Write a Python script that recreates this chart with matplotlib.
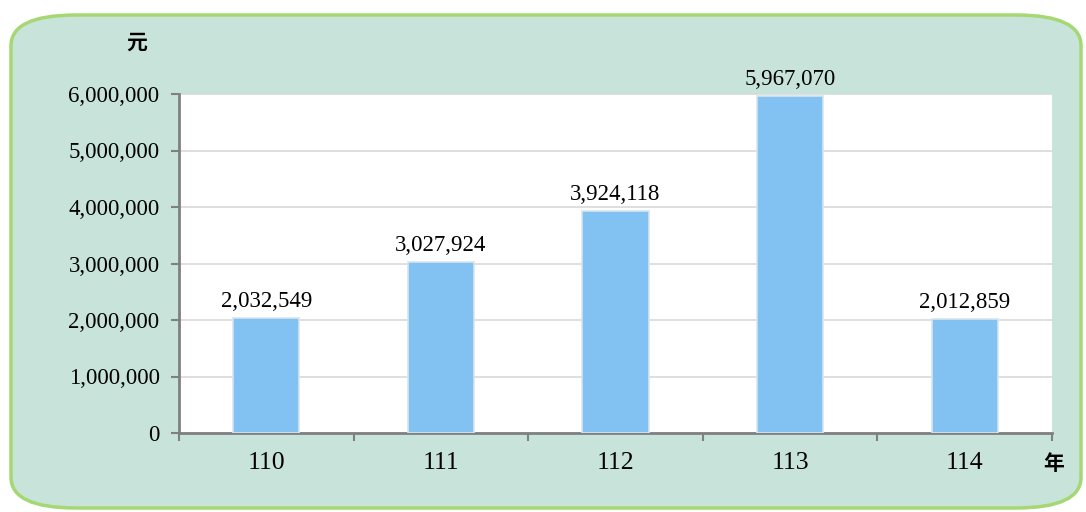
import numpy as np
import matplotlib.pyplot as plt
from matplotlib.patches import FancyBboxPatch
from matplotlib.ticker import FuncFormatter

years = ['110', '111', '112', '113', '114']
amounts = [2032549, 3027924, 3924118, 5967070, 2012859]
yticks = [0, 1000000, 2000000, 3000000, 4000000, 5000000, 6000000]

serif = ['Liberation Serif', 'DejaVu Serif']
cjk = ['Noto Sans CJK TC', 'DejaVu Sans']

fig = plt.figure(figsize=(10.86, 5.12), dpi=100)
fig.patch.set_facecolor('white')

# rounded green panel behind the chart
panel = FancyBboxPatch((11/1086, 4/512), 1070/1086, 493/512,
                       boxstyle="round,pad=0,rounding_size=0.06",
                       transform=fig.transFigure, facecolor='#C8E4DA',
                       edgecolor='#A5D872', linewidth=2.5, zorder=-5)
fig.patches.append(panel)

ax = fig.add_axes([179/1086, 1 - 433/512, (1052 - 179)/1086, (433 - 94)/512])
ax.set_zorder(2)
ax.set_facecolor('white')

x = np.arange(len(years))
bars = ax.bar(x, amounts, width=0.38, color='#82C2F2', edgecolor='#D8E4EC',
              linewidth=1.2, zorder=3)

for xi, v in zip(x, amounts):
    ax.text(xi, v + 110000, f"{v:,}", ha='center', va='bottom',
            fontsize=16.5, family=serif, color='black')

ax.set_xlim(-0.5, len(years) - 0.5)
ax.set_ylim(0, 6000000)
ax.set_yticks(yticks)
ax.yaxis.set_major_formatter(FuncFormatter(lambda v, p: f"{int(v):,}"))
ax.yaxis.grid(True, color='#D9D9D9', linewidth=1.2, zorder=0)
ax.set_axisbelow(True)

# category ticks at the boundaries, labels in the middle
ax.set_xticks(np.arange(len(years) + 1) - 0.5)
ax.set_xticklabels([])
ax.set_xticks(x, minor=True)
ax.set_xticklabels(years, minor=True)
ax.tick_params(axis='x', which='minor', length=0, pad=14)
ax.tick_params(axis='x', which='major', length=6, width=1.5, color='#808080')
ax.tick_params(axis='y', length=6, width=1.5, color='#808080', pad=8)

for lab in ax.get_xticklabels(minor=True):
    lab.set_fontfamily(serif)
    lab.set_fontsize(18.5)
for lab in ax.get_yticklabels():
    lab.set_fontfamily(serif)
    lab.set_fontsize(16.5)

for s in ['top', 'right']:
    ax.spines[s].set_visible(False)
for s in ['left', 'bottom']:
    ax.spines[s].set_color('#808080')
    ax.spines[s].set_linewidth(2)

fig.text(137/1086, 1 - 42/512, '元', ha='center', va='center',
         fontsize=15, family=cjk, fontweight='bold')
fig.text(1054/1086, 1 - 463/512, '年', ha='center', va='center',
         fontsize=15, family=cjk, fontweight='bold')

fig.savefig('out.png', dpi=100)
